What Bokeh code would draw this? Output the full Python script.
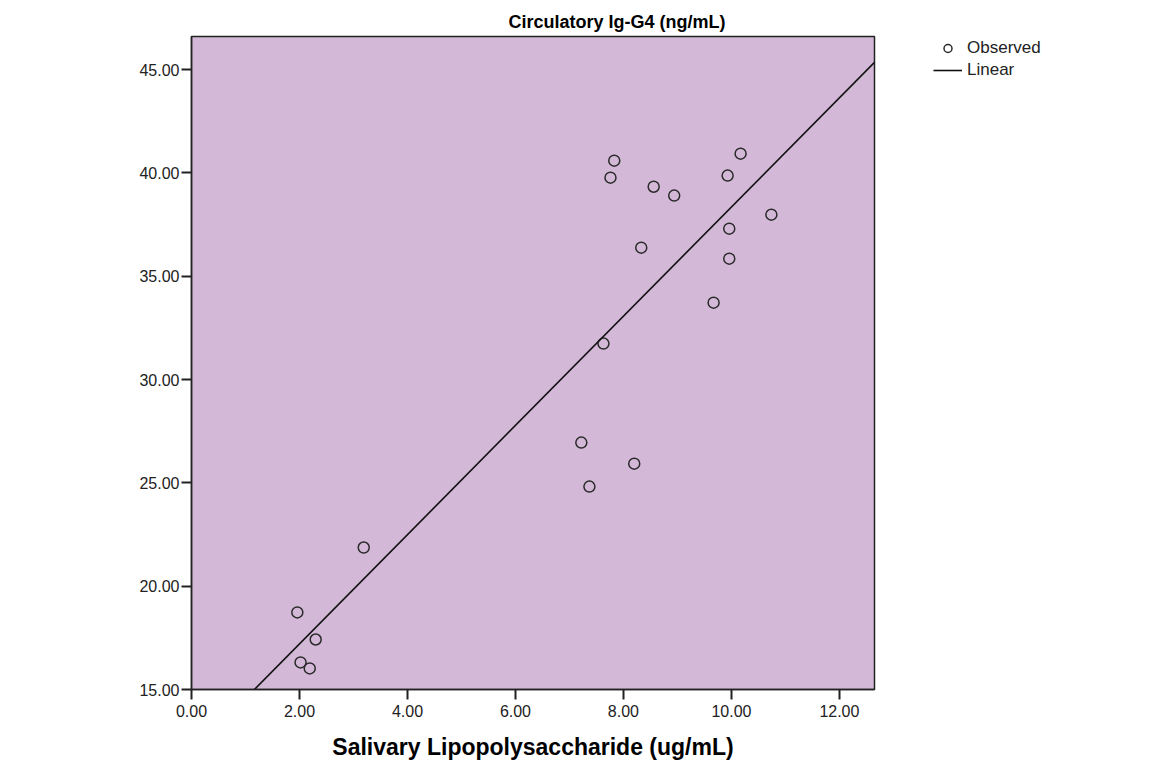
from bokeh.plotting import figure
from bokeh.models import (Range1d, FixedTicker, PrintfTickFormatter, Legend, LegendItem, Title)
from bokeh.embed import file_html
from bokeh.resources import INLINE

# Data
lps = [1.96, 2.02, 2.19, 2.30, 3.19, 7.22, 7.37, 8.20, 7.63, 8.33,
       7.83, 7.76, 8.56, 8.94, 9.93, 10.17, 9.96, 10.74, 9.96, 9.67]
igg4 = [18.73, 16.31, 16.02, 17.42, 21.87, 26.95, 24.82, 25.93, 31.74, 36.38,
        40.59, 39.77, 39.33, 38.90, 39.87, 40.93, 37.30, 37.98, 35.85, 33.72]

fit_slope = 2.643
fit_intercept = 11.92

x_ticks = [0, 2, 4, 6, 8, 10, 12]
y_ticks = [15, 20, 25, 30, 35, 40, 45]

title_text = "Circulatory Ig-G4 (ng/mL)"
x_label = "Salivary Lipopolysaccharide (ug/mL)"

FONT = "Liberation Sans"

p = figure(frame_width=683, frame_height=653, output_backend="svg", toolbar_location=None,
           x_range=Range1d(0, 12.65), y_range=Range1d(15, 46.6),
           min_border_left=191, min_border_top=36, min_border_right=274, min_border_bottom=64)

p.background_fill_color = "#D3B8D7"
p.border_fill_color = "white"
p.outline_line_color = "#222222"
p.outline_line_width = 1.5
p.grid.visible = False

t = Title(text=title_text, align="left", offset=317, text_font=FONT, text_font_size="18px",
          text_font_style="bold", text_color="black")
p.add_layout(t, "above")

for ax in (p.xaxis[0], p.yaxis[0]):
    ax.axis_line_color = "#222222"
    ax.axis_line_width = 1.5
    ax.major_tick_line_color = "#222222"
    ax.major_tick_line_width = 2
    ax.major_tick_out = 10
    ax.major_tick_in = 0
    ax.minor_tick_line_color = None
    ax.major_label_text_font = FONT
    ax.major_label_text_font_size = "16px"
    ax.major_label_text_color = "#222222"
    ax.formatter = PrintfTickFormatter(format="%.2f")

p.xaxis.ticker = FixedTicker(ticks=x_ticks)
p.yaxis.ticker = FixedTicker(ticks=y_ticks)
p.xaxis.major_label_standoff = 5
p.yaxis.major_label_standoff = 2
p.xaxis.axis_label = x_label
p.xaxis.axis_label_text_font = FONT
p.xaxis.axis_label_text_font_size = "23px"
p.xaxis.axis_label_text_font_style = "bold"
p.xaxis.axis_label_text_color = "black"
p.xaxis.axis_label_standoff = 14

pts = p.scatter(lps, igg4, marker="circle", size=11, fill_alpha=0,
                line_color="#2a2a2a", line_width=1.5)

fx = [0, 12.65]
fy = [fit_intercept + fit_slope * v for v in fx]
ln = p.line(fx, fy, line_color="#111111", line_width=1.6)

legend = Legend(items=[LegendItem(label="Observed", renderers=[pts]),
                       LegendItem(label="Linear", renderers=[ln])],
                location=(59, 609), padding=0, margin=0, spacing=2,
                glyph_width=29, glyph_height=20, label_height=20, label_standoff=5,
                label_text_font=FONT, label_text_font_size="17px",
                label_text_color="#222222",
                background_fill_alpha=0, border_line_color=None)
p.add_layout(legend, "right")

open("out.html", "w").write(file_html(p, INLINE))
